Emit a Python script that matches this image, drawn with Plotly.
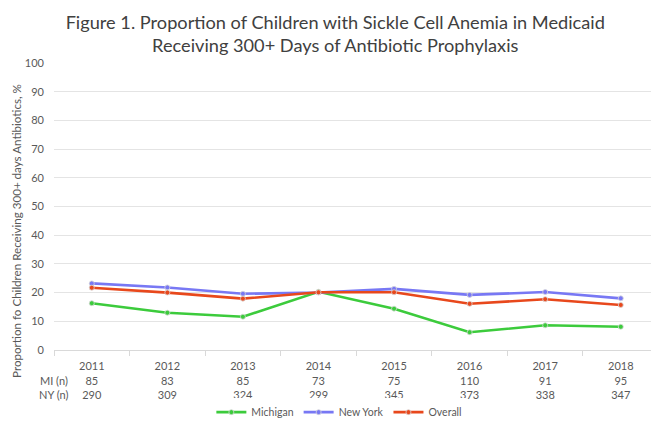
import plotly.graph_objects as go

years = ["2011", "2012", "2013", "2014", "2015", "2016", "2017", "2018"]
mi_n = [85, 83, 85, 73, 75, 110, 91, 95]
ny_n = [290, 309, 324, 299, 345, 373, 338, 347]

michigan = [16.3, 13.0, 11.6, 20.3, 14.4, 6.2, 8.6, 8.1]
new_york = [23.2, 21.8, 19.6, 20.0, 21.3, 19.2, 20.2, 18.0]
overall = [21.7, 20.0, 17.9, 20.1, 20.1, 16.1, 17.7, 15.7]

series = [
    ("Michigan", michigan, "#3CCB3C"),
    ("New York", new_york, "#7878F4"),
    ("Overall", overall, "#E8481C"),
]

tick_text = [f"{y}<br>{m}<br>{n}" for y, m, n in zip(years, mi_n, ny_n)]

fig = go.Figure()
for name, vals, color in series:
    fig.add_trace(go.Scatter(
        x=years, y=vals, name=name, mode="lines+markers",
        line=dict(color=color, width=2.6),
        marker=dict(size=5, color=color, line=dict(color="#D8D8D8", width=0.8)),
    ))

font_family = "Lato, 'Open Sans', sans-serif"

fig.update_layout(
    width=651, height=423,
    margin=dict(l=54, r=0, t=63, b=73, autoexpand=False),
    paper_bgcolor="white", plot_bgcolor="white",
    font=dict(family=font_family, color="#595959", size=11),
    title=dict(
        text="Figure 1. Proportion of Children with Sickle Cell Anemia in Medicaid<br>Receiving 300+ Days of Antibiotic Prophylaxis",
        x=0.515, xanchor="center", y=0.932, yanchor="top",
        font=dict(family=font_family, size=18.2, color="#404040"),
    ),
    showlegend=True,
    legend=dict(
        orientation="h", x=0.478, xanchor="center", y=-0.166, yanchor="top",
        font=dict(size=10.5, color="#595959"), itemwidth=30, tracegroupgap=0,
    ),
    xaxis=dict(
        type="category", range=[-0.5, 7.4], automargin=False,
        tickmode="array", tickvals=years, ticktext=tick_text,
        tickson="boundaries", ticks="outside", ticklen=5, tickcolor="#D9D9D9",
        ticklabelstandoff=6,
        showline=True, linecolor="#D9D9D9", linewidth=1,
        showgrid=False, tickfont=dict(size=11, color="#595959"),
    ),
    yaxis=dict(
        range=[0, 100], dtick=10, showgrid=True, gridcolor="#E4E4E4", gridwidth=1,
        zeroline=False, showline=False, ticks="", automargin=False,
        ticklabelstandoff=9,
        tickfont=dict(size=11, color="#595959"),
    ),
)

# Rotated y-axis title placed as an annotation so it can sit off-centre
fig.add_annotation(
    text="Proportion fo Children Receiving 300+ days Antibiotics, %",
    xref="paper", yref="paper", x=-0.062, xanchor="center",
    y=0.415, yanchor="middle", textangle=-90, showarrow=False,
    font=dict(size=11.6, color="#595959"),
)

for i, label in enumerate(["MI (n)", "NY (n)"]):
    fig.add_annotation(
        text=label, xref="paper", yref="paper", x=0.026, xanchor="right",
        y=-0.105 - i * 0.049, yanchor="middle", showarrow=False,
        font=dict(size=11, color="#595959"),
    )

fig.write_html("out.html")
